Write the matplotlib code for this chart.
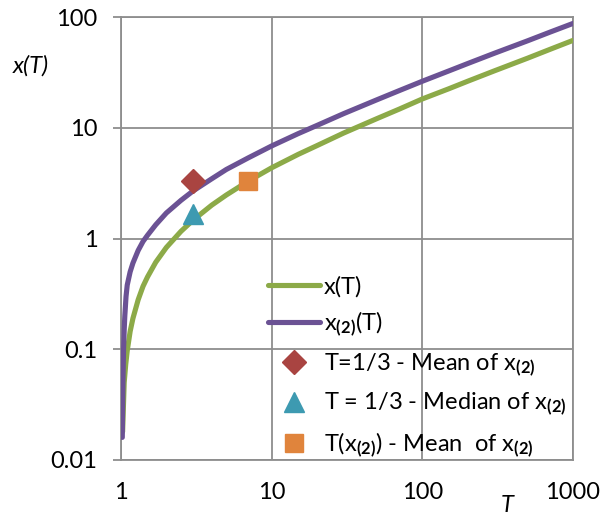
import matplotlib
matplotlib.use("Agg")
import matplotlib.pyplot as plt
from matplotlib.ticker import FixedLocator, FixedFormatter, NullLocator

plt.rcParams['font.family'] = ['Lato', 'DejaVu Sans']
plt.rcParams['mathtext.fontset'] = 'custom'
plt.rcParams['mathtext.rm'] = 'Lato'
plt.rcParams['mathtext.bf'] = 'Lato:bold'
plt.rcParams['mathtext.it'] = 'Lato:italic'

# ---- data ----
T_x = [1.025, 1.05, 1.075, 1.1, 1.15, 1.2, 1.3, 1.4, 1.5, 1.7, 2, 2.5, 3, 4, 5, 7, 10,
       15, 20, 30, 50, 70, 100, 150, 200, 300, 500, 700, 1000]
x_T = [0.018, 0.05, 0.073, 0.097, 0.145, 0.19, 0.28, 0.37, 0.45, 0.61, 0.83, 1.16, 1.46,
       2.0, 2.47, 3.3, 4.35, 5.75, 6.9, 8.95, 12.1, 14.7, 18.2, 22.5, 26.3, 32.6, 42.5,
       50.9, 61.5]

T_x2 = [1.02, 1.025, 1.03, 1.04, 1.05, 1.06, 1.08, 1.1, 1.15, 1.2, 1.3, 1.4, 1.5, 1.7, 2,
        2.5, 3, 4, 5, 7, 10, 15, 20, 30, 50, 70, 100, 150, 200, 300, 500, 700, 1000]
x2_T = [0.016, 0.03, 0.05, 0.1, 0.15, 0.2, 0.3, 0.38, 0.5, 0.6, 0.78, 0.94, 1.07, 1.33,
        1.7, 2.21, 2.68, 3.46, 4.2, 5.35, 6.85, 8.85, 10.5, 13.4, 17.9, 21.6, 26.3, 32.6,
        38.0, 47.0, 61.0, 72.8, 87.5]

mean_T = [3]
mean_x2 = [3.3]
median_T = [3]
median_x2 = [1.65]
Tmean_T = [7]
Tmean_x2 = [3.33]

xticks = [1, 10, 100, 1000]
xtick_labels = ['1', '10', '100', '1000']
yticks = [0.01, 0.1, 1, 10, 100]
ytick_labels = ['0.01', '0.1', '1', '10', '100']

green = '#8CAA48'
purple = '#6B5294'
red = '#A94441'
teal = '#3D9AB1'
orange = '#E0843C'
grid_c = '#8E8E8E'
FS = 17

W, H = 601, 515
fig = plt.figure(figsize=(W / 100, H / 100), dpi=100)
ax = fig.add_axes([121 / W, 1 - 460 / H, (573 - 121) / W, (460 - 17) / H])

ax.set_xscale('log')
ax.set_yscale('log')
ax.set_xlim(1, 1000)
ax.set_ylim(0.01, 100)

ax.plot(T_x, x_T, color=green, lw=3.7, label='x(T)', solid_capstyle='round',
        solid_joinstyle='round', zorder=3)
ax.plot(T_x2, x2_T, color=purple, lw=3.7, label=r'x$_{\mathbf{(2)}}$(T)',
        solid_capstyle='round', solid_joinstyle='round', zorder=3)
ax.plot(mean_T, mean_x2, ls='none', marker='D', ms=12, color=red, mec=red,
        label=r'T=1/3 - Mean of x$_{\mathbf{(2)}}$', zorder=4)
ax.plot(median_T, median_x2, ls='none', marker='^', ms=15, color=teal, mec=teal,
        label=r'T = 1/3 - Median of x$_{\mathbf{(2)}}$', zorder=4)
ax.plot(Tmean_T, Tmean_x2, ls='none', marker='s', ms=13.5, color=orange, mec=orange,
        label=r'T(x$_{\mathbf{(2)}}$) - Mean  of x$_{\mathbf{(2)}}$', zorder=4)

ax.xaxis.set_major_locator(FixedLocator(xticks))
ax.xaxis.set_major_formatter(FixedFormatter(xtick_labels))
ax.xaxis.set_minor_locator(NullLocator())
ax.yaxis.set_major_locator(FixedLocator(yticks))
ax.yaxis.set_major_formatter(FixedFormatter(ytick_labels))
ax.yaxis.set_minor_locator(NullLocator())

ax.grid(True, which='major', color=grid_c, lw=1.3)
for s in ax.spines.values():
    s.set_color(grid_c)
    s.set_linewidth(1.3)

ax.tick_params(axis='x', length=0, pad=16, labelsize=FS, labelcolor='black')
ax.tick_params(axis='y', length=6, width=1.3, color=grid_c, pad=11, labelsize=FS,
               labelcolor='black')

fig.text(31 / W, 1 - 66 / H, 'x(T)', style='italic', fontsize=FS, ha='center', va='center')
fig.text(507 / W, 1 - 506 / H, 'T', style='italic', fontsize=FS, ha='center', va='center')

leg = ax.legend(loc='upper left', bbox_to_anchor=(268 / W, 1 - 276 / H),
                bbox_transform=fig.transFigure, frameon=False, fontsize=FS,
                handlelength=2.2, handletextpad=0.17, labelspacing=0.52, borderpad=0,
                borderaxespad=0, numpoints=1)

fig.savefig('out.png', dpi=100)
